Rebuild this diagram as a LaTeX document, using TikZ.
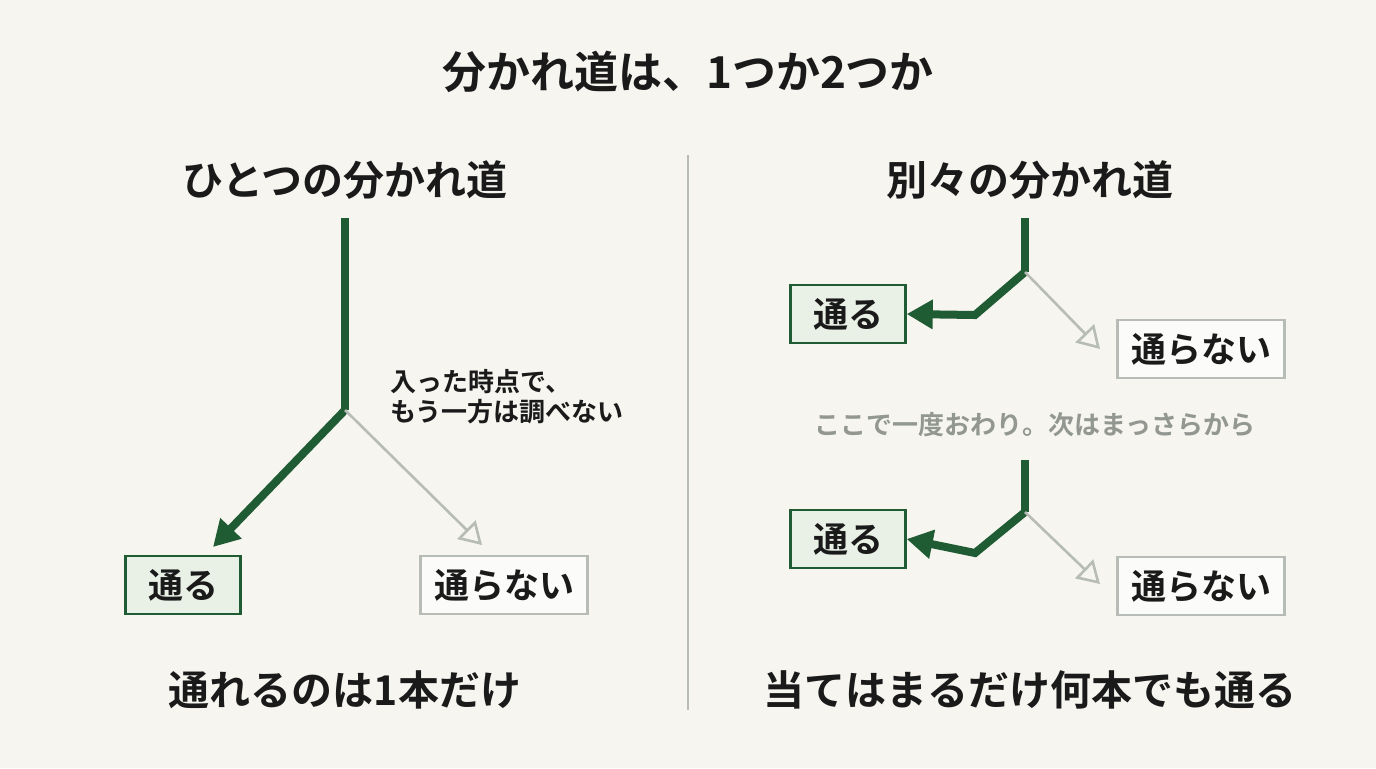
\documentclass[tikz,border=0pt]{standalone}
\usepackage{fontspec}
\setmainfont{Noto Sans CJK JP}[BoldFont={* Bold}]
\usetikzlibrary{arrows.meta}
\definecolor{bg}{HTML}{F6F5F0}
\definecolor{dg}{HTML}{1F5C33}
\definecolor{lg}{HTML}{B7BDB6}
\definecolor{boxg}{HTML}{E9F1E6}
\definecolor{txt}{HTML}{1A1A1A}
\begin{document}
\begin{tikzpicture}[x=0.5pt,y=-0.5pt,
  ttl/.style={font=\fontsize{20.5}{24}\selectfont\bfseries,text=txt},
  yes/.style={draw=dg,line width=1.2pt,fill=boxg,minimum width=57.5pt,minimum height=29pt,font=\fontsize{17.5}{20}\selectfont\bfseries,text=txt},
  no/.style={draw=lg,line width=1.2pt,fill=white!60!bg,minimum width=83.5pt,minimum height=29pt,font=\fontsize{17.5}{20}\selectfont\bfseries,text=txt},
  dark/.style={draw=dg,line width=4pt,line join=miter,-{Triangle[length=13pt,width=14pt]}},
  light/.style={draw=lg,line width=1.3pt,-{Triangle[open,length=11pt,width=13pt,fill=bg]}},
  trunk/.style={draw=dg,line width=4pt}]
\fill[bg] (0,0) rectangle (1376,768);
\useasboundingbox (0,0) rectangle (1376,768);
\node[font=\fontsize{22}{26}\selectfont\bfseries,text=txt] (main) at (688,72) {分かれ道は、1つか2つか};
\draw[lg,line width=0.6pt] (688,155) -- (688,710);
% left
\node[ttl] (lt) at (345,180) {ひとつの分かれ道};
\coordinate (ltop) at (345,218);
\coordinate (lj) at (345,410);
\node[yes] (ly) at (183,585) {通る};
\node[no] (ln) at (504,585) {通らない};
\draw[trunk] (ltop) -- (lj);
\draw[dark] (lj) -- (213,547);
\draw[light] (lj) -- (482,545);
\node[align=left,anchor=west,font=\fontsize{13}{15}\selectfont\bfseries,text=txt] (lab) at (383,397) {入った時点で、\\もう一方は調べない};
\node[ttl] (lb) at (345,690) {通れるのは1本だけ};
% right
\node[ttl] (rt) at (1030,180) {別々の分かれ道};
\node[yes] (ry1) at (848,314) {通る};
\node[no] (rn1) at (1201,349) {通らない};
\coordinate (rt1) at (1025,218);
\coordinate (rj1) at (1025,272);
\draw[trunk] (rt1) -- (rj1);
\draw[dark] (rj1) -- (975,315) -- (ry1.east);
\draw[light] (rj1) -- (1100,349);
\node[font=\fontsize{13}{15}\selectfont\bfseries,text=lg!80!black] (mid) at (1035,425) {ここで一度おわり。次はまっさらから};
\node[yes] (ry2) at (848,539) {通る};
\node[no] (rn2) at (1201,586) {通らない};
\coordinate (rt2) at (1025,460);
\coordinate (rj2) at (1025,512);
\draw[trunk] (rt2) -- (rj2);
\draw[dark] (rj2) -- (975,553) -- (ry2.east);
\draw[light] (rj2) -- (1100,584);
\node[ttl] (rb) at (1030,690) {当てはまるだけ何本でも通る};
\end{tikzpicture}
\end{document}
